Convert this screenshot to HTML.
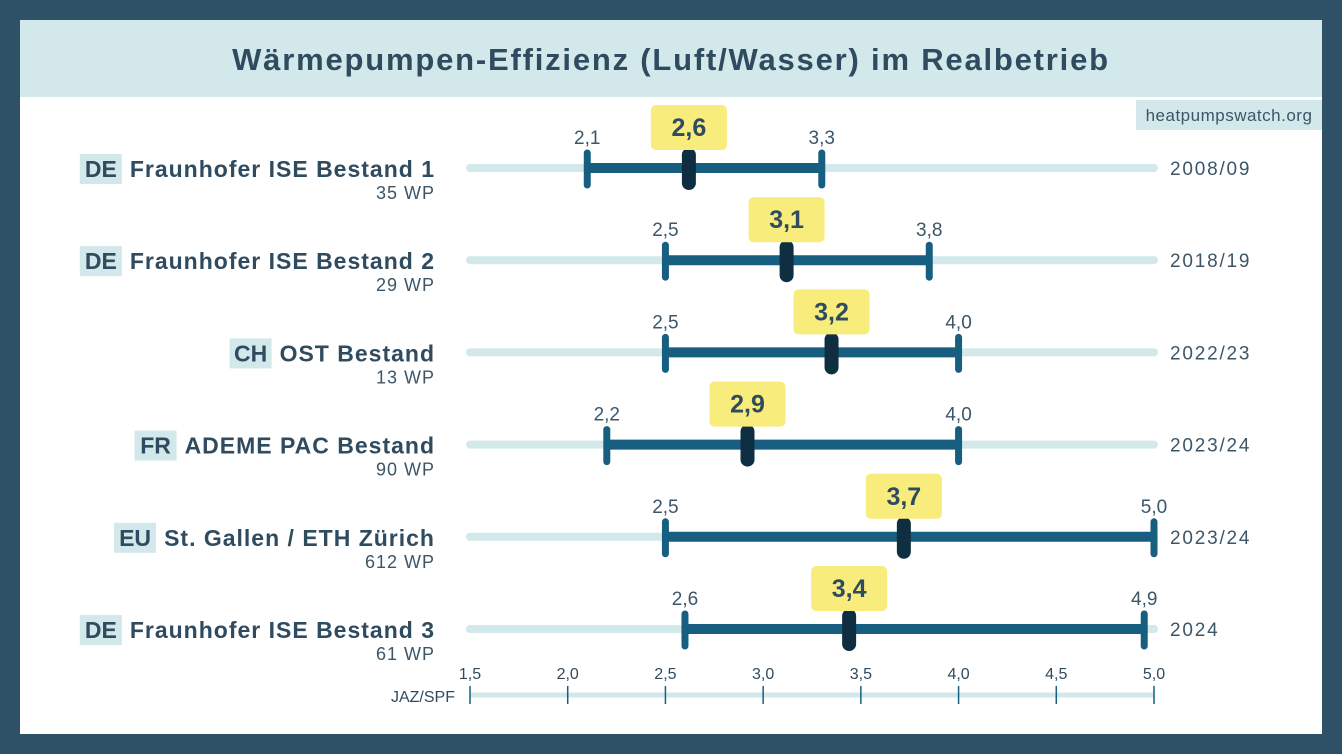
<!DOCTYPE html>
<html><head><meta charset="utf-8"><style>
html,body{margin:0;padding:0;background:#2f5167;}
svg{display:block;font-family:"Liberation Sans",sans-serif;}
</style></head><body>
<svg id="c" width="1342" height="754" viewBox="0 0 1342 754">
<rect x="0" y="0" width="1342" height="754" fill="#2f5167"/>
<rect x="20" y="20" width="1302" height="714" fill="#ffffff"/>
<rect x="20" y="20" width="1302" height="77" fill="#d2e8ea"/>
<text x="671" y="70" text-anchor="middle" font-size="31" font-weight="bold" letter-spacing="1.8" fill="#2f4b5f">Wärmepumpen-Effizienz (Luft/Wasser) im Realbetrieb</text>
<rect x="1136" y="100" width="186" height="30" fill="#d2e8ea"/>
<text x="1229" y="121" text-anchor="middle" font-size="17" letter-spacing="0.5" fill="#3c5668">heatpumpswatch.org</text>
<g id="rows"></g>
<g id="axis"></g>
</svg>
<script>
const countries=["DE","DE","CH","FR","EU","DE"];
const studies=["Fraunhofer ISE Bestand 1","Fraunhofer ISE Bestand 2","OST Bestand","ADEME PAC Bestand","St. Gallen / ETH Zürich","Fraunhofer ISE Bestand 3"];
const counts=["35 WP","29 WP","13 WP","90 WP","612 WP","61 WP"];
const periods=["2008/09","2018/19","2022/23","2023/24","2023/24","2024"];
const minVals=[2.1,2.5,2.5,2.2,2.5,2.6];
const medVals=[2.62,3.12,3.35,2.92,3.72,3.44];
const maxVals=[3.3,3.85,4.0,4.0,5.0,4.95];
const minLabels=["2,1","2,5","2,5","2,2","2,5","2,6"];
const medLabels=["2,6","3,1","3,2","2,9","3,7","3,4"];
const maxLabels=["3,3","3,8","4,0","4,0","5,0","4,9"];
const ticks=[1.5,2.0,2.5,3.0,3.5,4.0,4.5,5.0];

const NS="http://www.w3.org/2000/svg";
const x0=470,x1=1154,vmin=1.5,vmax=5.0;
function xs(v){return x0+(v-vmin)/(vmax-vmin)*(x1-x0);}
function rowY(i){return 168+i*92.2;}
function fmt(v){return v.toFixed(1).replace('.',',');}
function mk(tag,attrs,parent,text){const e=document.createElementNS(NS,tag);for(const k in attrs)e.setAttribute(k,attrs[k]);if(text!==undefined)e.textContent=text;parent.appendChild(e);return e;}
const rows=document.getElementById('rows');
for(let i=0;i<studies.length;i++){
  const y=rowY(i);
  const g=mk('g',{},rows);
  
  
  const t=mk('text',{x:435,y:y+9,'text-anchor':'end','font-size':23,'font-weight':'bold','letter-spacing':1,fill:'#2f4b5f'},g,studies[i]);
  
  
  const tw=t.getComputedTextLength();
  const cx=435-tw-6;
  const cb=mk('rect',{x:cx-44,y:y-14,width:42,height:30,fill:'#d2e8ea'},g);
  
  
  const ct=mk('text',{x:cx-23,y:y+9,'text-anchor':'middle','font-size':23,'font-weight':'bold',fill:'#2f4b5f'},g,countries[i]);
  
  
  const n=mk('text',{x:435,y:y+31,'text-anchor':'end','font-size':18,'letter-spacing':1,fill:'#3c5668'},g,counts[i]);
  
  
  const tr=mk('line',{x1:x0,x2:x1,y1:y,y2:y,stroke:'#d2e8ea','stroke-width':8,'stroke-linecap':'round'},g);
  
  
  const bar=mk('line',{x1:xs(minVals[i]),x2:xs(maxVals[i]),y1:y,y2:y,stroke:'#175e80','stroke-width':10},g);
  
  
  [[minVals[i],minLabels[i]],[maxVals[i],maxLabels[i]]].forEach((p,k)=>{
    const v=p[0];
    const c=mk('line',{x1:xs(v),x2:xs(v),y1:y-15,y2:y+17,stroke:'#175e80','stroke-width':7,'stroke-linecap':'round'},g);
    
    
    const l=mk('text',{x:xs(v),y:y-24,'text-anchor':'middle','font-size':19,fill:'#3c5668'},g,p[1]);
    
    
  });
  const mx=xs(medVals[i]);
  const m=mk('rect',{x:mx-7,y:y-20,width:14,height:42,rx:7,fill:'#0f2e42'},g);
  
  
  const b=mk('rect',{x:mx-38,y:y-63,width:76,height:45,rx:5,fill:'#f8ec7d'},g);
  
  
  const bt=mk('text',{x:mx,y:y-32,'text-anchor':'middle','font-size':25,'font-weight':'bold',fill:'#2f4b5f'},g,medLabels[i]);
  
  
  const p=mk('text',{x:1170,y:y+7,'font-size':19,'letter-spacing':1.8,fill:'#3c5668'},g,periods[i]);
  
  
}
const ax=document.getElementById('axis');
const al=mk('line',{x1:x0,x2:x1,y1:695,y2:695,stroke:'#d2e8ea','stroke-width':5},ax);


ticks.forEach(v=>{
  const tk=mk('line',{x1:xs(v),x2:xs(v),y1:686,y2:704,stroke:'#175e80','stroke-width':1.5},ax);
  
  
  const tl=mk('text',{x:xs(v),y:679,'text-anchor':'middle','font-size':16,fill:'#2f4b5f'},ax,fmt(v));
  
  
});
const at=mk('text',{x:455,y:702,'text-anchor':'end','font-size':16,fill:'#2f4b5f'},ax,'JAZ/SPF');


</script>
</body></html>
